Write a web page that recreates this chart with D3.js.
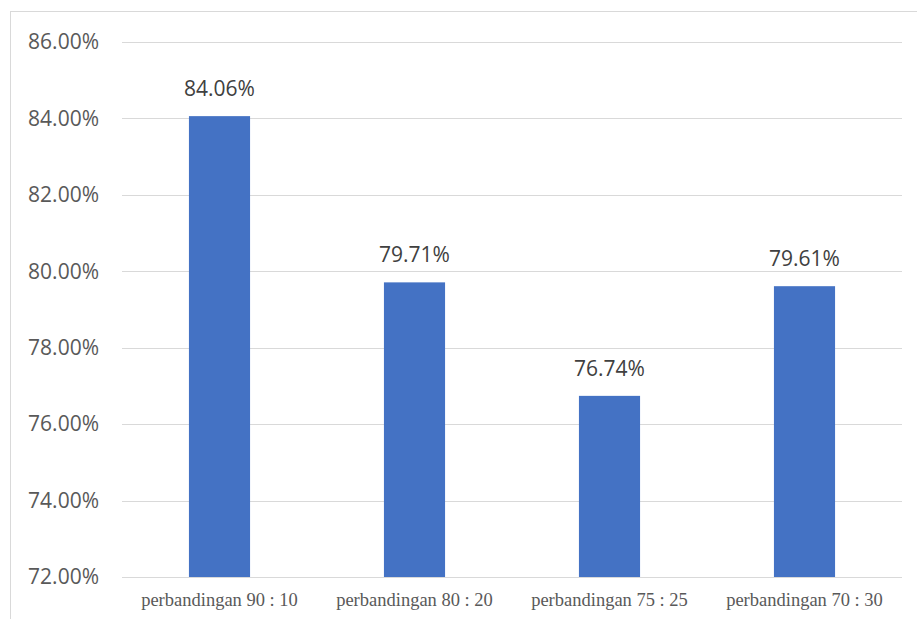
<!DOCTYPE html>
<html>
<head>
<meta charset="utf-8">
<script src="https://cdn.jsdelivr.net/npm/d3@7"></script>
<style>
  html, body { margin: 0; padding: 0; background: #fff; }
  svg { display: block; }
</style>
</head>
<body>
<svg id="chart" width="917" height="619"></svg>
<script>
// Accuracy for each train/test split
const categories = ["perbandingan 90 : 10", "perbandingan 80 : 20", "perbandingan 75 : 25", "perbandingan 70 : 30"];
const values = [0.8406, 0.7971, 0.7674, 0.7961];
const yTicks = [0.72, 0.74, 0.76, 0.78, 0.80, 0.82, 0.84, 0.86];

const svg = d3.select("#chart");
const W = 917, H = 619;
const plot = { left: 122, right: 902, top: 42, bottom: 577 };

// Outer chart frame (extends past the visible area on right/bottom)
svg.append("rect")
  .attr("x", 10.5).attr("y", 11.5)
  .attr("width", W + 20).attr("height", H + 20)
  .attr("fill", "none").attr("stroke", "#d9d9d9").attr("stroke-width", 1);

const x = d3.scaleBand().domain(categories).range([plot.left, plot.right]).padding(0);
const y = d3.scaleLinear().domain([0.72, 0.86]).range([plot.bottom, plot.top]);
const barW = x.bandwidth() / 3.19;

// Gridlines
svg.append("g").selectAll("line").data(yTicks).join("line")
  .attr("x1", plot.left).attr("x2", plot.right)
  .attr("y1", d => Math.round(y(d)) + 0.5).attr("y2", d => Math.round(y(d)) + 0.5)
  .attr("stroke", "#d9d9d9").attr("stroke-width", 1);

// Y axis labels
const yAxis = d3.axisLeft(y).tickValues(yTicks).tickFormat(d3.format(".2%")).tickSize(0).tickPadding(0);
const yg = svg.append("g").attr("transform", `translate(99,0)`).call(yAxis);
yg.select(".domain").remove();
yg.selectAll("text")
  .attr("font-family", "'Open Sans', sans-serif")
  .attr("font-size", 21).attr("fill", "#595959").attr("dy", "0.32em");

// Bars
svg.append("g").selectAll("rect").data(values).join("rect")
  .attr("x", (d, i) => x(categories[i]) + (x.bandwidth() - barW) / 2)
  .attr("width", barW)
  .attr("y", d => y(d))
  .attr("height", d => y(0.72) - y(d))
  .attr("fill", "#4472c4");

// Value labels
svg.append("g").selectAll("text").data(values).join("text")
  .attr("x", (d, i) => x(categories[i]) + x.bandwidth() / 2)
  .attr("y", d => y(d) - 20)
  .attr("text-anchor", "middle")
  .attr("font-family", "'Open Sans', sans-serif")
  .attr("font-size", 21).attr("fill", "#404040")
  .text(d => d3.format(".2%")(d));

// X axis labels
const xAxis = d3.axisBottom(x).tickSize(0).tickPadding(0);
const xg = svg.append("g").attr("transform", `translate(0,${plot.bottom})`).call(xAxis);
xg.select(".domain").remove();
xg.selectAll("text")
  .attr("font-family", "'Liberation Serif', 'Times New Roman', serif")
  .attr("font-size", 18.5).attr("fill", "#595959").attr("y", 29).attr("dy", 0);
</script>
</body>
</html>
